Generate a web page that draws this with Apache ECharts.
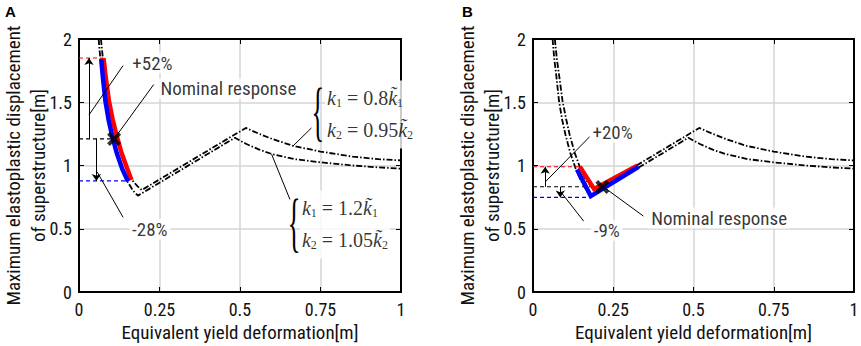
<!DOCTYPE html>
<html>
<head>
<meta charset="utf-8">
<script src="https://cdn.jsdelivr.net/npm/echarts@6/dist/echarts.min.js"></script>
<style>
  html, body { margin: 0; padding: 0; background: #fff; }
  #chart { width: 861px; height: 346px; }
</style>
</head>
<body>
<div id="chart"></div>
<script>
// values: x = equivalent yield deformation [m], y = max displacement [m]

// k1 = 0.8 k1~, k2 = 0.95 k2~ (upper dash-dot curve)
const upperCurve = [[0.068, 2.0], [0.074, 1.85], [0.082, 1.7], [0.092, 1.51], [0.103, 1.37], [0.114, 1.245],
  [0.13, 1.1], [0.147, 0.98], [0.165, 0.885], [0.182, 0.835], [0.195, 0.806], [0.518, 1.297], [0.56, 1.25],
  [0.6, 1.21], [0.665, 1.155], [0.75, 1.11], [0.85, 1.07], [0.93, 1.05], [1.0, 1.04]]
// k1 = 1.2 k1~, k2 = 1.05 k2~ (lower dash-dot curve)
const lowerCurve = [[0.061, 2.0], [0.066, 1.85], [0.073, 1.7], [0.081, 1.51], [0.091, 1.36], [0.101, 1.245],
  [0.116, 1.1], [0.133, 0.975], [0.15, 0.875], [0.168, 0.8], [0.183, 0.762], [0.484, 1.219], [0.52, 1.17],
  [0.56, 1.125], [0.6, 1.09], [0.67, 1.05], [0.75, 1.025], [0.85, 1.0], [0.93, 0.985], [1.0, 0.975]]

// panel A: response range
const redA = [[0.076, 1.85], [0.083, 1.7], [0.093, 1.51], [0.104, 1.37], [0.116, 1.245], [0.132, 1.1], [0.149, 0.98], [0.163, 0.885]]
const blueA = [[0.069, 1.84], [0.074, 1.7], [0.082, 1.51], [0.092, 1.36], [0.102, 1.245], [0.117, 1.1], [0.134, 0.975], [0.152, 0.875]]
const nominalA = [0.109, 1.21]
const levelsA = { nominal: [1.21, 0.109], upper: [1.85, 0.076], lower: [0.878, 0.152] }  // [y, x end]
const arrowsA = [[[0.031, 1.21], [0.031, 1.85]], [[0.054, 1.21], [0.054, 0.878]]]
const leadersA = [[[0.137, 1.79], [0.031, 1.40]], [[0.232, 1.64], [0.109, 1.21]], [[0.137, 0.59], [0.056, 0.95]],
  [[0.722, 1.297], [0.665, 1.155]], [[0.655, 0.732], [0.598, 1.09]]]
const labelTextA = ['+52%', 'Nominal response', '-28%']
const labelPosA = [[0.228, 1.81], [0.464, 1.606], [0.22, 0.497]]

// panel B: response range
const redB = [[0.146, 0.99], [0.19, 0.815], [0.326, 1.0]]
const blueB = [[0.137, 0.968], [0.18, 0.758], [0.329, 0.99]]
const nominalB = [0.216, 0.83]
const levelsB = { nominal: [0.832, 0.216], upper: [0.99, 0.146], lower: [0.748, 0.18] }
const arrowsB = [[[0.038, 0.832], [0.038, 0.99]], [[0.085, 0.832], [0.085, 0.748]]]
const leadersB = [[[0.178, 1.231], [0.038, 0.87]], [[0.158, 0.56], [0.087, 0.79]], [[0.344, 0.6], [0.22, 0.83]]]
const labelTextB = ['+20%', '-9%', 'Nominal response']
const labelPosB = [[0.248, 1.26], [0.23, 0.488], [0.58, 0.584]]

// stiffness notes in panel A (left edge of text, centre of block)
const eqText = [
  '{i|k}{s|1}{n| = 0.8}{i|k\u0303}{s|1}\n{i|k}{s|2}{n| = 0.95}{i|k\u0303}{s|2}',
  '{i|k}{s|1}{n| = 1.2}{i|k\u0303}{s|1}\n{i|k}{s|2}{n| = 1.05}{i|k\u0303}{s|2}'
]
const eqPos = [[0.764, 1.404], [0.686, 0.534]]
const bracePos = [[0.742, 1.434], [0.668, 0.554]]

const NARROW = '"Roboto Condensed", "Liberation Sans", Arial, sans-serif'
const SERIF = '"Liberation Serif", "Times New Roman", serif'
const TEXT = '#111'
const dashDot = [6, 2, 1.5, 2]

function axesFor(grid) {
  return {
    x: [
      {
        gridIndex: grid, type: 'value', min: 0, max: 1, interval: 0.25,
        axisLine: { show: true, onZero: false, lineStyle: { color: '#000', width: 2 } },
        axisTick: { inside: true, length: 5, lineStyle: { color: '#000', width: 1 } },
        axisLabel: { fontFamily: NARROW, fontSize: 18, color: TEXT, margin: 8 },
        splitLine: { show: true, lineStyle: { color: '#d4d4d4', width: 1.5 } },
        name: 'Equivalent yield deformation[m]', nameLocation: 'middle', nameGap: 31,
        nameTextStyle: { fontFamily: NARROW, fontSize: 19, color: TEXT }
      },
      {
        gridIndex: grid, type: 'value', min: 0, max: 1, interval: 0.25, position: 'top',
        axisLine: { show: true, onZero: false, lineStyle: { color: '#000', width: 2 } },
        axisTick: { inside: true, length: 5, lineStyle: { color: '#000', width: 1 } },
        axisLabel: { show: false }, splitLine: { show: false }
      }
    ],
    y: [
      {
        gridIndex: grid, type: 'value', min: 0, max: 2, interval: 0.5,
        axisLine: { show: true, onZero: false, lineStyle: { color: '#000', width: 2 } },
        axisTick: { inside: true, length: 5, lineStyle: { color: '#000', width: 1 } },
        axisLabel: { fontFamily: NARROW, fontSize: 18, color: TEXT, margin: 7 },
        splitLine: { show: true, lineStyle: { color: '#d4d4d4', width: 1.5 } },
        name: 'Maximum elastoplastic displacement\nof superstructure[m]', nameLocation: 'middle',
        nameRotate: 90, nameGap: 28, nameMoveOverlap: false,
        nameTextStyle: { fontFamily: NARROW, fontSize: 19, lineHeight: 25, color: TEXT }
      },
      {
        gridIndex: grid, type: 'value', min: 0, max: 2, interval: 0.5, position: 'right',
        axisLine: { show: true, onZero: false, lineStyle: { color: '#000', width: 2 } },
        axisTick: { inside: true, length: 5, lineStyle: { color: '#000', width: 1 } },
        axisLabel: { show: false }, splitLine: { show: false }
      }
    ]
  }
}

function panelSeries(ax, p) {
  const base = { xAxisIndex: ax, yAxisIndex: ax, silent: true, animation: false }
  const level = (v, color) => ({
    ...base, type: 'line', symbol: 'none', z: 3,
    data: [[0, v[0]], [v[1], v[0]]],
    lineStyle: { color, width: 1.2, type: [4, 3] }
  })
  const curve = data => ({
    ...base, type: 'line', symbol: 'none', z: 3, data,
    lineStyle: { color: '#000', width: 1.8, type: dashDot }
  })
  const thick = (data, color) => ({
    ...base, type: 'line', symbol: 'none', z: 4, data,
    lineStyle: { color, width: 4.5, cap: 'butt', join: 'miter' }
  })
  const segs = (list, arrow) => ({
    ...base, type: 'lines', coordinateSystem: 'cartesian2d', z: 5,
    data: list.map(c => ({ coords: c })),
    symbol: arrow ? ['none', 'arrow'] : 'none', symbolSize: 7,
    lineStyle: { color: '#000', width: 1, opacity: 1, curveness: 0 }
  })
  return [
    curve(upperCurve),
    curve(lowerCurve),
    level(p.levels.upper, '#ff0000'),
    level(p.levels.lower, '#0000ff'),
    level(p.levels.nominal, '#000'),
    thick(p.red, '#ff0000'),
    thick(p.blue, '#0000ff'),
    segs(p.arrows, true),
    segs(p.leaders, false),
    {
      ...base, type: 'scatter', z: 6, symbolSize: 14,
      symbol: 'path://M0,2L2,0L5,3L8,0L10,2L7,5L10,8L8,10L5,7L2,10L0,8L3,5Z',
      itemStyle: { color: '#000' }, data: [p.nominal]
    },
    {
      ...base, type: 'scatter', z: 10, symbolSize: 1, itemStyle: { color: 'rgba(0,0,0,0)' },
      data: p.texts.map((t, i) => ({ name: t, value: p.textPos[i] })),
      label: {
        show: true, position: 'inside', formatter: d => d.name, color: '#000',
        fontFamily: NARROW, fontSize: 19, backgroundColor: '#fff', padding: [1, 3]
      }
    }
  ]
}

const axA = axesFor(0)
const axB = axesFor(1)

const eqSeries = {
  type: 'scatter', xAxisIndex: 0, yAxisIndex: 0, silent: true, z: 10, symbolSize: 1,
  itemStyle: { color: 'rgba(0,0,0,0)' },
  data: eqText.map((t, i) => ({ name: t, value: eqPos[i] })),
  label: {
    show: true, position: 'inside', align: 'left', verticalAlign: 'middle',
    formatter: d => d.name, backgroundColor: '#fff', padding: [2, 2, 2, 2], lineHeight: 32,
    rich: {
      i: { fontFamily: SERIF, fontStyle: 'italic', fontSize: 20, color: '#000', lineHeight: 32 },
      n: { fontFamily: SERIF, fontSize: 20, color: '#000', lineHeight: 32 },
      s: { fontFamily: SERIF, fontSize: 12, color: '#000', lineHeight: 32, padding: [9, 0, 0, 0] }
    }
  }
}

const chart = echarts.init(document.getElementById('chart'), null, { renderer: 'svg' })

chart.setOption({
  animation: false,
  backgroundColor: '#fff',
  grid: [
    { left: 79, top: 39, width: 322, height: 253, outerBoundsMode: 'none', containLabel: false },
    { left: 533, top: 39, width: 321, height: 253, outerBoundsMode: 'none', containLabel: false }
  ],
  xAxis: [axA.x[0], axA.x[1], { ...axB.x[0], gridIndex: 1 }, { ...axB.x[1], gridIndex: 1 }],
  yAxis: [axA.y[0], axA.y[1], { ...axB.y[0], gridIndex: 1 }, { ...axB.y[1], gridIndex: 1 }],
  series: [
    ...panelSeries(0, {
      red: redA, blue: blueA, nominal: nominalA, levels: levelsA, arrows: arrowsA,
      leaders: leadersA, texts: labelTextA, textPos: labelPosA
    }),
    ...panelSeries(2, {
      red: redB, blue: blueB, nominal: nominalB, levels: levelsB, arrows: arrowsB,
      leaders: leadersB, texts: labelTextB, textPos: labelPosB
    }),
    eqSeries
  ]
})

// braces and panel letters, placed from data coordinates
const braces = bracePos.map(pos => {
  const [px, py] = chart.convertToPixel({ xAxisIndex: 0, yAxisIndex: 0 }, pos)
  return {
    type: 'text', x: px, y: py, scaleX: 0.4, z: 100,
    style: { text: '{', font: '66px ' + SERIF, fill: '#000', align: 'center', verticalAlign: 'middle' }
  }
})

chart.setOption({
  graphic: [
    ...braces,
    { type: 'text', x: 5, y: 4, z: 100, style: { text: 'A', font: 'bold 15px "Liberation Sans", Arial', fill: '#000' } },
    { type: 'text', x: 462, y: 4, z: 100, style: { text: 'B', font: 'bold 15px "Liberation Sans", Arial', fill: '#000' } }
  ]
})
</script>
</body>
</html>
